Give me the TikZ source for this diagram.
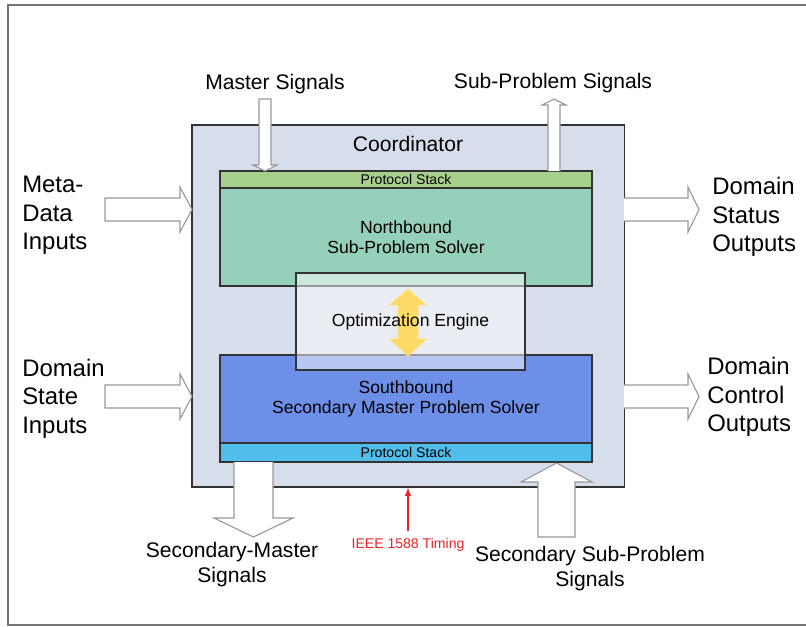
\documentclass[tikz,border=0pt]{standalone}
\usepackage{fontspec}
\setmainfont{Liberation Sans}
\definecolor{coordfill}{HTML}{D5DEEA}
\definecolor{psgreen}{HTML}{A8D08D}
\definecolor{northfill}{HTML}{95D0BA}
\definecolor{southfill}{HTML}{6D8FE8}
\definecolor{psblue}{HTML}{50BDEB}
\definecolor{engineyellow}{HTML}{FFD966}
\definecolor{ieeered}{HTML}{E8232A}

\begin{document}
\begin{tikzpicture}[x=0.025cm, y=-0.025cm,
	box/.style={draw=black!80, line width=0.8pt, minimum width=9.3cm, inner sep=0pt, align=center},
	lbl/.style={inner sep=0pt, font=\fontsize{15}{17.8}\selectfont, align=center},
	sidelbl/.style={inner sep=0pt, font=\fontsize{17}{20.3}\selectfont, align=left},
	blockarrow/.style={draw=black!40, line width=0.8pt, fill=white, line join=miter}]
	
	\useasboundingbox (0,0) rectangle (806,626);
	\draw[black!55, line width=1pt] (806,5) -- (8,5) -- (8,625) -- (806,625);
	
	% coordinator and its solvers
	\node[box, fill=coordfill, minimum width=10.8cm, minimum height=9.05cm] (coord) at (408,306) {};
	\node[lbl] (coordlbl) at (408,144) {Coordinator};
	\node[box, fill=psgreen, minimum height=0.425cm, font=\fontsize{10}{12}\selectfont] (pstop) at (406,179.5) {Protocol Stack};
	\node[box, fill=northfill, minimum height=2.45cm, font=\fontsize{12.5}{14.2}\selectfont] (north) at (406,237) {Northbound\\Sub-Problem Solver};
	\node[box, fill=southfill, minimum height=2.2cm, font=\fontsize{12.5}{14.2}\selectfont] (south) at (406,399) {Southbound\\Secondary Master Problem Solver};
	\node[box, fill=psblue, minimum height=0.475cm, font=\fontsize{10}{12}\selectfont] (psbot) at (406,452.5) {Protocol Stack};
	
	% optimization engine
	\node[box, fill=white, fill opacity=0.5, minimum width=5.725cm, minimum height=2.425cm] (opt) at (410.5,321.5) {};
	\draw[engineyellow!80!white, fill=engineyellow, line width=0.6pt] (408,289) -- (426.5,305) -- (418,305) -- (418,339) -- (426.5,339) -- (408,356) -- (389.5,339) -- (398,339) -- (398,305) -- (389.5,305) -- cycle;
	\node[inner sep=0pt, font=\fontsize{12.5}{14.2}\selectfont] (optlbl) at (opt.center) {Optimization Engine};
	
	% signal arrows
	\draw[blockarrow] (259,99) -- (271,99) -- (271,165) -- (277,165) -- (265,171) -- (253,165) -- (259,165) -- cycle;
	\draw[blockarrow] (548,171) -- (548,105) -- (542,105) -- (554,99) -- (566,105) -- (560,105) -- (560,171);
	\draw[blockarrow] (105,198) -- (180,198) -- (180,187) -- (192,209.5) -- (180,232) -- (180,221) -- (105,221) -- cycle;
	\draw[blockarrow] (105,385) -- (180,385) -- (180,374) -- (192,396.5) -- (180,419) -- (180,408) -- (105,408) -- cycle;
	\draw[blockarrow] (624,198) -- (688,198) -- (688,187) -- (699,209.5) -- (688,232) -- (688,221) -- (624,221);
	\draw[blockarrow] (624,385) -- (688,385) -- (688,374) -- (699,396.5) -- (688,419) -- (688,408) -- (624,408);
	\draw[blockarrow] (234,462) -- (234,518) -- (214,518) -- (253.5,537) -- (293,518) -- (273,518) -- (273,462);
	\draw[blockarrow] (538,537) -- (538,482) -- (521,482) -- (556.5,463) -- (592,482) -- (575,482) -- (575,537) -- cycle;
	
	% labels
	\node[lbl] (masterlbl) at (275,84) {Master Signals};
	\node[lbl] (sublbl) at (553,83) {Sub-Problem Signals};
	\node[sidelbl, anchor=west] (metalbl) at (22,215.5) {Meta-\\Data\\Inputs};
	\node[sidelbl, anchor=west] (statelbl) at (22,398.5) {Domain\\State\\Inputs};
	\node[sidelbl, anchor=west] (statuslbl) at (712,217) {Domain\\Status\\Outputs};
	\node[sidelbl, anchor=west] (controllbl) at (707,397) {Domain\\Control\\Outputs};
	\node[lbl] (secmasterlbl) at (232,564.5) {Secondary-Master\\Signals};
	\node[lbl] (secsublbl) at (590,569) {Secondary Sub-Problem\\Signals};
	
	% timing
	\node[inner sep=0pt, text=ieeered, font=\fontsize{10}{12}\selectfont] (ieee) at (408,545) {IEEE 1588 Timing};
	\draw[ieeered, line width=1pt, -latex, shorten <=5pt] (ieee.north) -- (coord.south);
\end{tikzpicture}
\end{document}
